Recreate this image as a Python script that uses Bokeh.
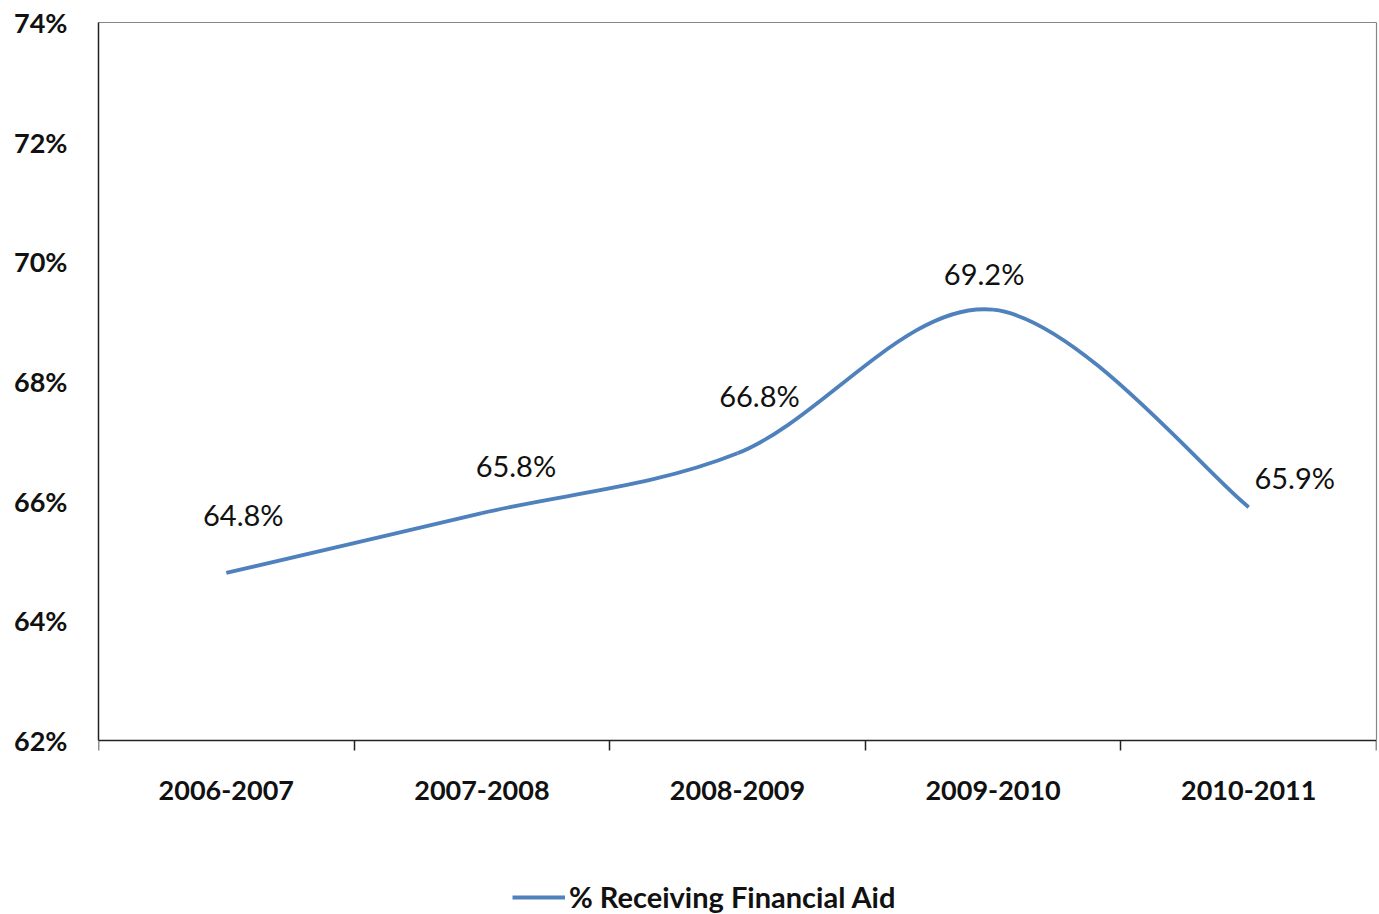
from bokeh.plotting import figure
from bokeh.models import (ColumnDataSource, Range1d, FixedTicker, NumeralTickFormatter,
                          Legend, LegendItem, LinearAxis)
from bokeh.core.properties import value
from bokeh.embed import file_html
from bokeh.resources import INLINE

# ---- data ----
categories = ["2006-2007", "2007-2008", "2008-2009", "2009-2010", "2010-2011"]
pct_aid = [0.648, 0.658, 0.668, 0.692, 0.659]
point_labels = ["64.8%", "65.8%", "66.8%", "69.2%", "65.9%"]
y_ticks = [0.62, 0.64, 0.66, 0.68, 0.70, 0.72, 0.74]
series_name = "% Receiving Financial Aid"
y_min, y_max = 0.62, 0.74

# label nudges (screen px), style only
lab_dx = [17, 34, 22, -9, 46]
lab_dy = [-58, -48, -58, -36, -30]

FONT = "Lato"
BLUE = "#4F81BD"
W, H = 1379, 914
TOP, LEFT, RIGHT = 22, 98, 3
AXIS_Y_PX = 740          # pixel row of the category axis
# extend the frame below the value axis so the legend can sit inside it
px_per_unit = (AXIS_Y_PX - TOP) / (y_max - y_min)
y_start = y_max - (H - TOP) / px_per_unit

xs = [i + 0.5 for i in range(len(categories))]

p = figure(width=W, height=H, output_backend="svg", toolbar_location=None,
           x_range=Range1d(0, len(categories)), y_range=Range1d(y_start, y_max),
           min_border_left=LEFT, min_border_right=RIGHT, min_border_top=TOP, min_border_bottom=0,
           x_axis_location=None, y_axis_location=None)
p.background_fill_color = "white"
p.border_fill_color = "white"
p.outline_line_color = None
p.xgrid.visible = False
p.ygrid.visible = False

# smoothed line (Excel-style Catmull-Rom bezier through the data points)
n = len(xs)
P = list(zip(xs, pct_aid))
bx0, by0, bx1, by1, c0x, c0y, c1x, c1y = [], [], [], [], [], [], [], []
for i in range(n - 1):
    p_prev = P[i - 1] if i > 0 else P[i]
    p0 = P[i]
    p1 = P[i + 1]
    p_next = P[i + 2] if i + 2 < n else P[i + 1]
    bx0.append(p0[0]); by0.append(p0[1])
    bx1.append(p1[0]); by1.append(p1[1])
    c0x.append(p0[0] + (p1[0] - p_prev[0]) / 6); c0y.append(p0[1] + (p1[1] - p_prev[1]) / 6)
    c1x.append(p1[0] - (p_next[0] - p0[0]) / 6); c1y.append(p1[1] - (p_next[1] - p0[1]) / 6)
curve = p.bezier(x0=bx0, y0=by0, x1=bx1, y1=by1, cx0=c0x, cy0=c0y, cx1=c1x, cy1=c1y,
                 line_color=BLUE, line_width=3.8)

src = ColumnDataSource(dict(x=xs, y=pct_aid, t=point_labels, dx=lab_dx, dy=lab_dy))
p.text(x="x", y="y", text="t", source=src, x_offset="dx", y_offset="dy",
       text_font=value(FONT), text_font_size="29px", text_color="#111111",
       text_align="center", text_baseline="middle")

# value axis (left)
yax = LinearAxis(ticker=FixedTicker(ticks=y_ticks), formatter=NumeralTickFormatter(format="0%"),
                 bounds=(y_min, y_max))
yax.major_tick_out = 0
yax.major_tick_in = 0
yax.minor_tick_out = 0
yax.minor_tick_in = 0
yax.axis_line_color = "#222222"
yax.axis_line_width = 1.5
yax.major_label_standoff = 31
yax.major_label_text_font = FONT
yax.major_label_text_font_style = "bold"
yax.major_label_text_font_size = "27px"
yax.major_label_text_color = "#111111"
p.add_layout(yax, "left")

# plot-area border (top, right)
topax = LinearAxis(ticker=FixedTicker(ticks=[]), major_tick_out=0, minor_tick_out=0,
                   major_label_text_font_size="0px", axis_line_color="#868686",
                   axis_line_width=1.2)
p.add_layout(topax, "above")
rax = LinearAxis(ticker=FixedTicker(ticks=[]), major_tick_out=0, minor_tick_out=0,
                 major_label_text_font_size="0px", axis_line_color="#868686",
                 axis_line_width=1.2, bounds=(y_min, y_max))
p.add_layout(rax, "right")

# category axis at 62%
xax = LinearAxis(ticker=FixedTicker(ticks=xs, minor_ticks=list(range(len(categories) + 1))),
                 fixed_location=y_min)
xax.major_label_overrides = {x: c for x, c in zip(xs, categories)}
xax.major_tick_out = 0
xax.major_tick_in = 0
xax.minor_tick_out = 10
xax.minor_tick_in = 0
xax.minor_tick_line_color = "#222222"
xax.minor_tick_line_width = 1.5
xax.axis_line_color = "#222222"
xax.axis_line_width = 1.5
xax.major_label_standoff = 30
xax.major_label_text_font = FONT
xax.major_label_text_font_style = "bold"
xax.major_label_text_font_size = "27px"
xax.major_label_text_color = "#111111"
p.add_layout(xax, "below")

legend = Legend(items=[LegendItem(label=series_name, renderers=[curve], index=0)],
                location=(414, 0), orientation="horizontal",
                glyph_width=53, glyph_height=20, label_standoff=4, padding=0, margin=0,
                label_text_font=FONT, label_text_font_style="bold",
                label_text_font_size="29px", label_text_color="#111111",
                border_line_color=None, background_fill_alpha=0)
p.add_layout(legend, "center")

open("out.html", "w").write(file_html(p, INLINE))
